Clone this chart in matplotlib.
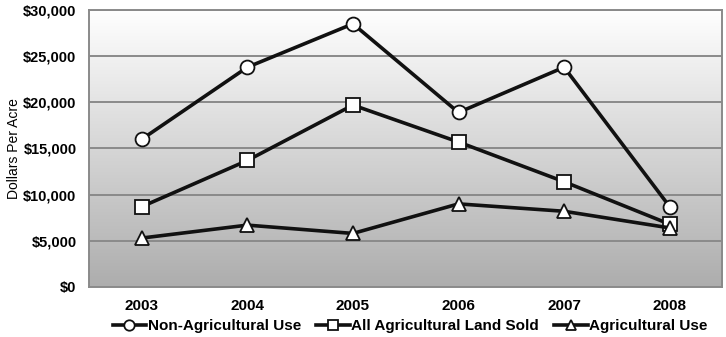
import numpy as np
import matplotlib
matplotlib.use('Agg')
from matplotlib import pyplot as plt
from matplotlib.colors import LinearSegmentedColormap
from matplotlib.ticker import FuncFormatter

plt.rcParams['font.family'] = ['Liberation Sans', 'DejaVu Sans']

years = ['2003', '2004', '2005', '2006', '2007', '2008']
non_ag = [16000, 23800, 28500, 18900, 23800, 8700]
all_ag = [8700, 13700, 19700, 15700, 11400, 6800]
ag_use = [5300, 6700, 5800, 9000, 8200, 6400]


def main():
    fig = plt.figure(figsize=(7.26, 3.37), dpi=100)
    ax = fig.add_axes([0.1226, 0.1484, 0.8725, 0.8220])

    x = np.arange(len(years))
    ax.set_xlim(-0.5, len(years) - 0.5)
    ax.set_ylim(0, 30000)

    # vertical fill: gray at the bottom, white at the top
    grad = np.linspace(0, 1, 256).reshape(-1, 1)
    cmap = LinearSegmentedColormap.from_list('bg', ['#adadad', '#ffffff'])
    ax.imshow(grad, cmap=cmap, aspect='auto', origin='lower',
              extent=(-0.5, len(years) - 0.5, 0, 30000), zorder=0)

    for yv in range(5000, 30001, 5000):
        ax.axhline(yv, color='#8a8a8a', lw=1.4, zorder=1)

    mk = dict(color='#111111', lw=2.6, markersize=10, markerfacecolor='white',
              markeredgecolor='#111111', markeredgewidth=1.3, zorder=3,
              clip_on=False)
    l1, = ax.plot(x, non_ag, marker='o', label='Non-Agricultural Use', **mk)
    l2, = ax.plot(x, all_ag, marker='s', label='All Agricultural Land Sold', **mk)
    l3, = ax.plot(x, ag_use, marker='^', label='Agricultural Use', **mk)

    for s in ax.spines.values():
        s.set_color('#8a8a8a')
        s.set_linewidth(1.4)

    ax.set_xticks(x)
    ax.set_xticklabels(years, fontsize=11, fontweight='bold')
    ax.set_yticks(range(0, 30001, 5000))
    ax.yaxis.set_major_formatter(FuncFormatter(lambda v, p: '${:,.0f}'.format(v)))
    for t in ax.get_yticklabels():
        t.set_fontweight('bold')
        t.set_fontsize(10.5)
    ax.tick_params(axis='both', length=0)
    ax.tick_params(axis='x', pad=9)
    ax.tick_params(axis='y', pad=9)
    ax.set_ylabel('Dollars Per Acre', fontsize=10)
    ax.yaxis.set_label_coords(-0.108, 0.5)

    fig.legend(handles=[l1, l2, l3], loc='center', bbox_to_anchor=(0.565, 0.032),
               ncol=3, frameon=False, handlelength=2.2, handletextpad=0.1,
               columnspacing=1.0, markerscale=0.75,
               prop={'weight': 'bold', 'size': 11})

    plt.savefig('out.png', dpi=100)


if __name__ == "__main__":
    main()
